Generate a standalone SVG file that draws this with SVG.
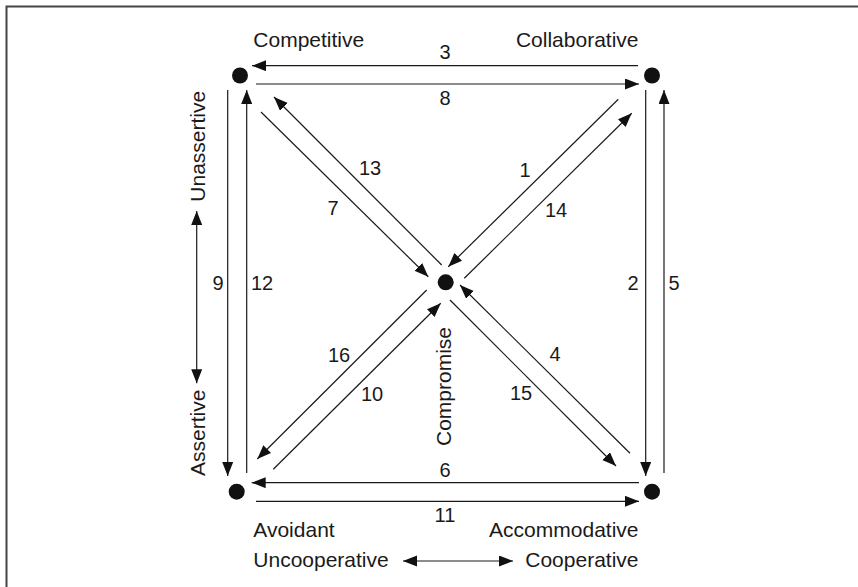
<svg xmlns="http://www.w3.org/2000/svg" width="858" height="587" viewBox="0 0 858 587">
<style>
.lbl{font-family:"Liberation Sans",Arial,sans-serif;font-size:21px;fill:#1a1a1a}
.num{font-family:"Liberation Sans",Arial,sans-serif;font-size:20px;fill:#1a1a1a;text-anchor:middle}
.c{stroke:#1a1a1a;stroke-width:1.2;fill:none;marker-end:url(#ah)}
.d{stroke:#1a1a1a;stroke-width:1.2;fill:none;marker-end:url(#ah);marker-start:url(#ah)}
.dot{fill:#111}
</style>
<defs>
<marker id="ah" markerUnits="userSpaceOnUse" markerWidth="15" markerHeight="12" refX="14" refY="5.5" orient="auto-start-reverse">
<path d="M0,0 L14,5.5 L0,11 z" fill="#111"/>
</marker>
</defs>
<rect width="858" height="587" fill="#fff"/>
<path d="M6.5,587 L6.5,6.5 L858,6.5" stroke="#444" stroke-width="2" fill="none"/>

<g id="competitive"><circle class="dot" cx="240" cy="75.5" r="8"/><text class="lbl" x="253.3" y="47">Competitive</text></g>
<g id="collaborative"><circle class="dot" cx="652" cy="75.5" r="8"/><text class="lbl" x="638.5" y="47" text-anchor="end">Collaborative</text></g>
<g id="compromise"><circle class="dot" cx="445.7" cy="282.3" r="8"/><text class="lbl" transform="translate(451,446) rotate(-90)">Compromise</text></g>
<g id="avoidant"><circle class="dot" cx="236.7" cy="491.7" r="8"/><text class="lbl" x="253.3" y="536.7">Avoidant</text></g>
<g id="accommodative"><circle class="dot" cx="652" cy="491.7" r="8"/><text class="lbl" x="638.5" y="536.7" text-anchor="end">Accommodative</text></g>

<g id="axes">
<text class="lbl" x="253.3" y="566.7">Uncooperative</text>
<text class="lbl" x="638.5" y="566.7" text-anchor="end">Cooperative</text>
<line class="d" x1="403" y1="561" x2="513" y2="561"/>
<text class="lbl" transform="translate(205,201.7) rotate(-90)">Unassertive</text>
<text class="lbl" transform="translate(205,476) rotate(-90)">Assertive</text>
<line class="d" x1="196.7" y1="211" x2="196.7" y2="383.3"/>
</g>

<g id="connectors">
<line class="c" x1="638" y1="65.7" x2="252" y2="65.7"/>
<line class="c" x1="256" y1="84" x2="639" y2="84"/>
<line class="c" x1="639" y1="482.7" x2="251.7" y2="482.7"/>
<line class="c" x1="256" y1="501.3" x2="639" y2="501.3"/>
<line class="c" x1="227.7" y1="90" x2="227.7" y2="476"/>
<line class="c" x1="246.7" y1="473" x2="246.7" y2="90"/>
<line class="c" x1="645.7" y1="90" x2="645.7" y2="476"/>
<line class="c" x1="664" y1="473" x2="664" y2="90"/>
<line class="c" x1="441.7" y1="265" x2="274" y2="97"/>
<line class="c" x1="261" y1="112" x2="428.3" y2="276.7"/>
<line class="c" x1="618.3" y1="99.3" x2="448.3" y2="266.7"/>
<line class="c" x1="464.3" y1="278.3" x2="631.7" y2="113.3"/>
<line class="c" x1="426.7" y1="290" x2="257.3" y2="459"/>
<line class="c" x1="273.3" y1="469.3" x2="440.7" y2="303.3"/>
<line class="c" x1="630" y1="453.3" x2="460" y2="285"/>
<line class="c" x1="450" y1="300" x2="616" y2="466"/>
</g>

<g id="numbers">
<text class="num" x="445" y="59">3</text>
<text class="num" x="445" y="105">8</text>
<text class="num" x="445" y="477">6</text>
<text class="num" x="445" y="521.5">11</text>
<text class="num" x="218" y="290">9</text>
<text class="num" x="262" y="290">12</text>
<text class="num" x="633" y="290">2</text>
<text class="num" x="674" y="290">5</text>
<text class="num" x="370" y="175">13</text>
<text class="num" x="333" y="215">7</text>
<text class="num" x="525" y="177">1</text>
<text class="num" x="556" y="217">14</text>
<text class="num" x="339" y="362">16</text>
<text class="num" x="372" y="401">10</text>
<text class="num" x="555" y="361">4</text>
<text class="num" x="521" y="400">15</text>
</g>
</svg>
